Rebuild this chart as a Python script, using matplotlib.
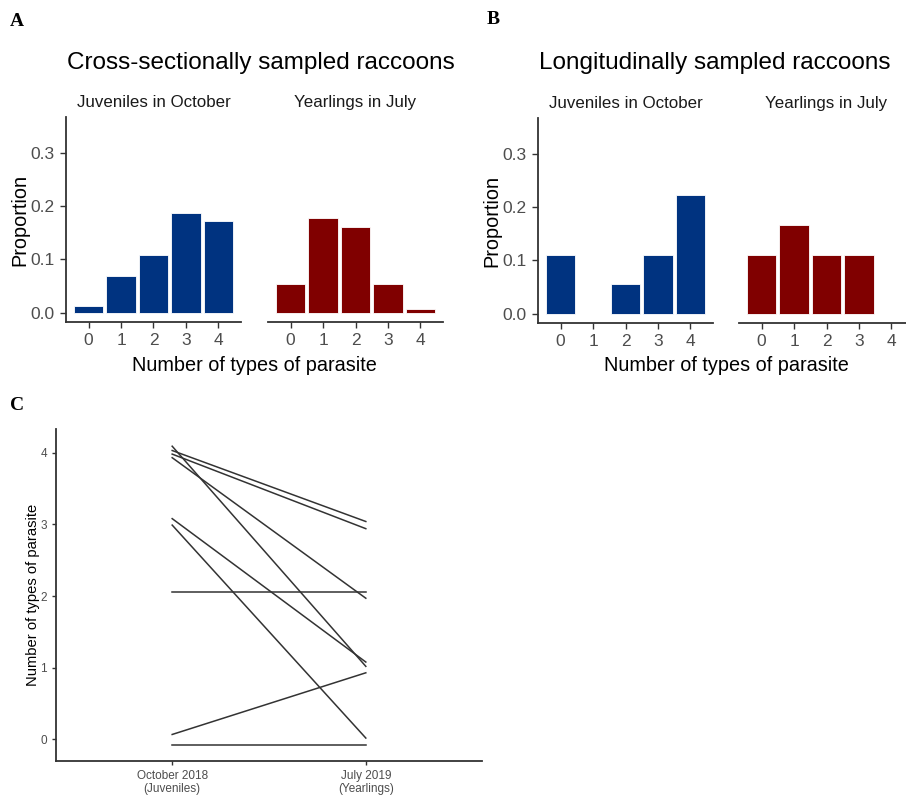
import matplotlib
matplotlib.use("Agg")
import matplotlib.pyplot as plt

# Parasite richness distributions (proportion of all raccoons sampled)
counts = [0, 1, 2, 3, 4]
cross_juv = [0.012, 0.068, 0.109, 0.188, 0.173]
cross_year = [0.053, 0.178, 0.160, 0.053, 0.006]
long_juv = [0.111, 0.0, 0.056, 0.111, 0.222]
long_year = [0.111, 0.167, 0.111, 0.111, 0.0]

# Individual raccoons (jittered), October 2018 -> July 2019
seasons = ["October 2018\n(Juveniles)", "July 2019\n(Yearlings)"]
oct_2018 = [4.03, 3.98, 3.93, 4.09, 3.08, 2.99, 2.06, 0.07, -0.07]
jul_2019 = [3.04, 2.94, 1.97, 1.02, 1.08, 0.02, 2.06, 0.93, -0.07]

BLUE = "#003380"
RED = "#800000"
AXCOL = "#333333"
TICKCOL = "#4d4d4d"
plt.rcParams["font.family"] = ["Liberation Sans", "DejaVu Sans"]

W, H = 906, 797
fig = plt.figure(figsize=(W / 100, H / 100), dpi=100)


def px_axes(x0, y0, x1, y1):
    return fig.add_axes([x0 / W, 1 - y1 / H, (x1 - x0) / W, (y1 - y0) / H])


def classic(ax, show_y=True):
    for s in ["top", "right"]:
        ax.spines[s].set_visible(False)
    for s in ["bottom", "left"]:
        ax.spines[s].set_color(AXCOL)
        ax.spines[s].set_linewidth(1.3)
    ax.tick_params(colors=AXCOL, labelcolor=TICKCOL, width=1.0, length=4)
    if not show_y:
        ax.spines["left"].set_visible(False)
        ax.tick_params(axis="y", left=False, labelleft=False)


def facet(ax, vals, color, strip, show_y):
    ax.bar(counts, vals, width=0.9, color=color, edgecolor="white", linewidth=0.6)
    ax.set_xlim(-0.695, 4.695)
    ax.set_ylim(-0.0175, 0.3675)
    ax.set_xticks(counts)
    ax.set_yticks([0.0, 0.1, 0.2, 0.3])
    ax.set_yticklabels(["0.0", "0.1", "0.2", "0.3"])
    classic(ax, show_y)
    ax.tick_params(labelsize=12.5, pad=4)
    ax.set_title(strip, fontsize=12.2, color="#1a1a1a", pad=7)


# Panel A
a1 = px_axes(66, 117, 241, 322)
a2 = px_axes(268, 117, 443, 322)
facet(a1, cross_juv, BLUE, "Juveniles in October", True)
facet(a2, cross_year, RED, "Yearlings in July", False)
a1.set_ylabel("Proportion", fontsize=14.3, labelpad=1)
fig.text(261 / W, 1 - 63 / H, "Cross-sectionally sampled raccoons", fontsize=17.5,
         ha="center", va="center")
fig.text(254 / W, 1 - 365 / H, "Number of types of parasite", fontsize=14.3,
         ha="center", va="center")

# Panel B
b1 = px_axes(538, 118, 713, 323)
b2 = px_axes(739, 118, 914, 323)
facet(b1, long_juv, BLUE, "Juveniles in October", True)
facet(b2, long_year, RED, "Yearlings in July", False)
b1.set_ylabel("Proportion", fontsize=14.3, labelpad=1)
fig.text(715 / W, 1 - 63 / H, "Longitudinally sampled raccoons", fontsize=17.5,
         ha="center", va="center")
fig.text(726 / W, 1 - 365 / H, "Number of types of parasite", fontsize=14.3,
         ha="center", va="center")

# Panel C
c = px_axes(56, 429, 482, 761)
for a, b in zip(oct_2018, jul_2019):
    c.plot([1, 2], [a, b], color="#333333", linewidth=1.1)
c.set_xlim(0.4, 2.6)
c.set_ylim(-0.3, 4.33)
c.set_xticks([1, 2])
c.set_xticklabels(seasons, fontsize=8, linespacing=1.15)
c.set_yticks([0, 1, 2, 3, 4])
classic(c)
c.tick_params(labelsize=8.5, length=3)
c.set_ylabel("Number of types of parasite", fontsize=10.6, labelpad=0)

# Panel letters
for x, y, s in [(17, 22, "A"), (493, 20, "B"), (17, 405, "C")]:
    fig.text(x / W, 1 - y / H, s, fontsize=14, fontweight="bold",
             family="Liberation Serif", ha="center", va="center")

fig.savefig("out.png", dpi=100)
